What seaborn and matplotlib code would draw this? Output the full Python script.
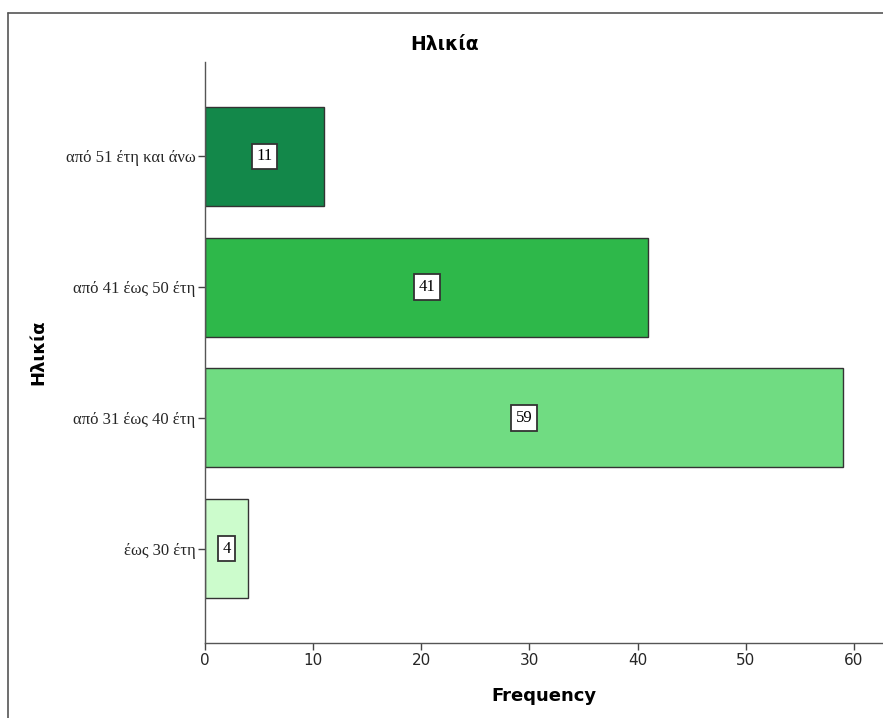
import matplotlib
matplotlib.use("Agg")
import matplotlib.pyplot as plt
from matplotlib.lines import Line2D
import seaborn as sns
import pandas as pd

# Age groups and their frequencies
categories = ["από 51 έτη και άνω", "από 41 έως 50 έτη", "από 31 έως 40 έτη", "έως 30 έτη"]
frequencies = [11, 41, 59, 4]
bar_colors = ["#13884a", "#2eb84a", "#70dc82", "#ccfccc"]
x_ticks = [0, 10, 20, 30, 40, 50, 60]

df = pd.DataFrame({"Ηλικία": categories, "Frequency": frequencies})

sns.set_theme(style="white")
plt.rcParams["font.family"] = ["DejaVu Sans"]

fig = plt.figure(figsize=(8.83, 7.18), dpi=100)
ax = fig.add_axes([205 / 883, 1 - 643 / 718, 1 - 205 / 883, (643 - 62) / 718])

sns.barplot(data=df, x="Frequency", y="Ηλικία", hue="Ηλικία", order=categories,
            palette=bar_colors, saturation=1, orient="h", width=0.757,
            edgecolor="#333333", linewidth=1.0, legend=False, ax=ax)

ax.set_xlim(0, 62.7)
ax.set_ylim(3.72, -0.72)
ax.set_xticks(x_ticks)
ax.set_xticklabels([str(t) for t in x_ticks], fontsize=11)
for lbl in ax.get_yticklabels():
    lbl.set_fontfamily("Liberation Serif")
    lbl.set_fontsize(12)

ax.tick_params(axis="both", which="both", direction="out", length=5, width=1,
               color="#444444", bottom=True, left=True, pad=2)
for side in ("top", "right"):
    ax.spines[side].set_visible(False)
for side in ("left", "bottom"):
    ax.spines[side].set_color("#555555")
    ax.spines[side].set_linewidth(1.0)

ax.set_xlabel("Frequency", fontsize=13, fontweight="bold", labelpad=14, color="black")
ax.set_ylabel("Ηλικία", fontsize=13, fontweight="bold", color="black")
ax.yaxis.set_label_coords((47 - 205) / (883 - 205), 0.5)

# Chart title centred over the whole figure
fig.text(445 / 883, 1 - 45 / 718, "Ηλικία", ha="center", va="center",
         fontsize=13.5, fontweight="bold", color="black")

# Value labels in white boxes at the middle of each bar
for i, v in enumerate(frequencies):
    ax.text(v / 2, i, str(v), ha="center", va="center", fontsize=12,
            fontfamily="Liberation Serif", color="black",
            bbox=dict(boxstyle="square,pad=0.28", facecolor="white",
                      edgecolor="#333333", linewidth=1.3))

# Outer frame lines along the left and top of the figure
fig.add_artist(Line2D([8 / 883, 8 / 883], [0, 1 - 13 / 718], transform=fig.transFigure,
                      color="#555555", linewidth=1.2))
fig.add_artist(Line2D([8 / 883, 1], [1 - 13 / 718, 1 - 13 / 718], transform=fig.transFigure,
                      color="#555555", linewidth=1.2))

fig.savefig("out.png", dpi=100)
